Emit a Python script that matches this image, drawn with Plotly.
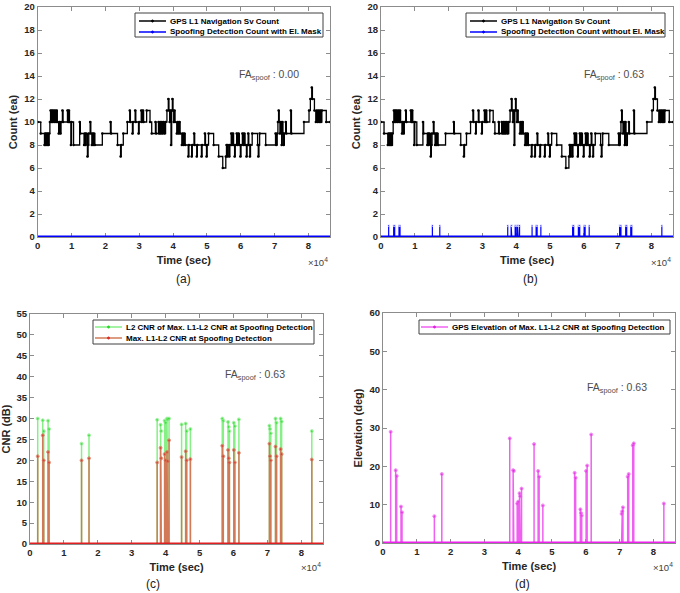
import plotly.graph_objects as go

# time in units of 1e4 sec
T_END = 8.64

# GPS L1 navigation Sv count (step changes)
sv_t = [0.00, 0.09, 0.20, 0.22, 0.24, 0.26, 0.28, 0.30, 0.32, 0.34, 0.36, 0.38, 0.40, 0.42, 0.44, 0.46,
        0.49, 0.51, 0.54, 0.56, 0.58, 0.62, 0.64, 0.67, 0.69, 0.73, 0.75, 0.88, 0.90, 0.92, 0.94, 0.98,
        1.00, 1.06, 1.24, 1.26, 1.37, 1.39, 1.41, 1.43, 1.47, 1.49, 1.51, 1.55, 1.57, 1.60, 1.62, 1.64,
        1.66, 1.69, 1.91, 2.15, 2.17, 2.36, 2.45, 2.47, 2.53, 2.65, 2.72, 2.74, 2.80, 2.82, 2.88, 2.90,
        2.98, 3.00, 3.06, 3.08, 3.11, 3.13, 3.22, 3.32, 3.37, 3.48, 3.50, 3.57, 3.59, 3.62, 3.64, 3.67,
        3.69, 3.72, 3.75, 3.78, 3.82, 3.86, 3.88, 3.90, 3.92, 3.94, 3.96, 3.98, 4.00, 4.02, 4.04, 4.06,
        4.11, 4.14, 4.16, 4.19, 4.21, 4.26, 4.28, 4.31, 4.33, 4.36, 4.45, 4.47, 4.55, 4.57, 4.62, 4.64,
        4.70, 4.72, 4.84, 4.86, 4.94, 4.96, 4.99, 5.01, 5.05, 5.20, 5.35, 5.47, 5.56, 5.58, 5.60, 5.62,
        5.66, 5.68, 5.72, 5.74, 5.77, 5.79, 5.82, 5.84, 5.88, 5.90, 5.93, 5.96, 5.99, 6.01, 6.05, 6.08,
        6.10, 6.13, 6.17, 6.19, 6.22, 6.24, 6.27, 6.29, 6.34, 6.50, 6.52, 6.54, 6.56, 6.74, 7.03, 7.05,
        7.08, 7.10, 7.12, 7.14, 7.16, 7.19, 7.21, 7.23, 7.25, 7.27, 7.29, 7.33, 7.35, 7.48, 7.50, 7.87,
        8.02, 8.06, 8.10, 8.12, 8.18, 8.22, 8.25, 8.27, 8.30, 8.32, 8.35, 8.37, 8.40, 8.53, 8.64]
sv_n = [10, 9, 8, 9, 8, 9, 8, 9, 8, 9, 10, 11, 10, 11, 10, 11,
        10, 11, 10, 11, 10, 9, 10, 9, 10, 11, 10, 11, 10, 11, 10, 8,
        10, 8, 10, 9, 8, 9, 8, 9, 7, 8, 9, 10, 9, 8, 9, 8,
        9, 8, 9, 10, 9, 8, 7, 8, 9, 10, 11, 10, 9, 10, 11, 10,
        9, 10, 11, 10, 11, 10, 11, 10, 9, 10, 9, 10, 9, 10, 9, 10,
        9, 10, 9, 10, 11, 12, 11, 10, 11, 8, 11, 12, 11, 10, 11, 10,
        9, 10, 9, 10, 9, 8, 9, 8, 9, 8, 7, 8, 7, 8, 9, 8,
        7, 8, 7, 8, 9, 8, 7, 8, 9, 8, 7, 6, 7, 8, 7, 8,
        7, 8, 9, 8, 9, 8, 7, 8, 9, 8, 9, 8, 7, 8, 9, 8,
        9, 8, 7, 8, 9, 8, 7, 8, 9, 8, 7, 8, 9, 8, 9, 8,
        9, 10, 11, 10, 9, 10, 8, 10, 9, 8, 9, 10, 9, 11, 9, 10,
        11, 12, 13, 12, 11, 10, 11, 10, 11, 10, 11, 10, 11, 10, 10]

# spoofing detection events (time, 1e4 sec)
det_t = [0.227, 0.375, 0.405, 0.533, 0.563, 1.52, 1.74, 3.75, 3.85, 3.87, 3.97, 4.00, 4.04, 4.06, 4.10,
         4.47, 4.59, 4.62, 4.73, 5.67, 5.70, 5.84, 5.86, 5.88, 6.01, 6.04, 6.16, 7.06, 7.08, 7.10,
         7.24, 7.27, 7.39, 7.42, 8.31]
det_count = [1, 1, 1, 1, 1, 1, 1, 1, 1, 1, 1, 1, 1, 1, 1, 1, 1, 1, 1, 1, 1, 1, 1, 1, 1, 1, 1, 1, 1, 1,
             1, 1, 1, 1, 1]
l2_cnr = [30.0, 29.6, 27.0, 29.5, 27.5, 24.0, 26.0, 29.7, 28.5, 27.0, 29.5, 29.0, 30.0, 29.8, 30.0,
          28.6, 28.8, 27.0, 27.5, 30.0, 29.5, 29.2, 28.0, 27.0, 29.0, 28.2, 29.8, 28.3, 27.5, 26.5,
          30.0, 29.0, 30.0, 29.3, 27.0]
max_cnr = [21.0, 26.0, 20.0, 22.0, 19.5, 20.0, 20.5, 19.5, 23.0, 20.5, 21.5, 20.0, 22.0, 19.8, 24.8,
           20.8, 22.2, 20.0, 20.3, 23.5, 21.0, 22.5, 20.5, 19.5, 22.5, 19.5, 21.8, 24.0, 21.0, 20.0,
           23.3, 21.0, 22.7, 21.5, 20.2]
elev = [29.0, 19.0, 17.5, 9.5, 8.0, 7.0, 18.0, 27.3, 19.0, 18.8, 10.3, 10.8, 13.0, 12.2, 14.2,
        25.8, 18.8, 17.3, 9.8, 18.3, 17.0, 8.8, 7.8, 7.2, 18.8, 20.2, 28.3, 7.6, 8.3, 9.3,
        17.3, 18.0, 25.5, 26.0, 10.3]

FONT = "Liberation Sans, Arial, sans-serif"
W, H = 680, 593

BLACK, BLUE = "#000000", "#0000ff"
GREEN_L, GREEN_M = "#86ef86", "#22d822"
RED_L, RED_M = "#d27a58", "#e42424"
MAG_L, MAG_M = "#f060f0", "#e020e0"


def stems(times, vals, ms):
    x, y, s = [0], [0], [0]
    for t, v in zip(times, vals):
        x += [t, t, t]
        y += [0, v, 0]
        s += [0, ms, 0]
    x.append(T_END); y.append(0); s.append(0)
    return x, y, s


fig = go.Figure()

# (a) and (b)
for ax, sp in [("", False), ("2", True)]:
    fig.add_trace(go.Scatter(x=sv_t, y=sv_n, mode="lines+markers", line=dict(color=BLACK, width=1.3, shape="hv"),
                             marker=dict(size=2.5, color=BLACK), xaxis="x" + ax, yaxis="y" + ax))
    if sp:
        x, y, s = stems(det_t, det_count, 2)
        fig.add_trace(go.Scatter(x=x, y=y, mode="lines+markers", line=dict(color=BLUE, width=1.2),
                                 marker=dict(size=s, color=BLUE), xaxis="x" + ax, yaxis="y" + ax, cliponaxis=False))
    fig.add_trace(go.Scatter(x=[0, T_END], y=[0, 0], mode="lines", line=dict(color=BLUE, width=3),
                             xaxis="x" + ax, yaxis="y" + ax, cliponaxis=False))

# (c)
x, y, s = stems(det_t, l2_cnr, 3)
fig.add_trace(go.Scatter(x=x, y=y, mode="lines+markers", line=dict(color=GREEN_L, width=1.5),
                         marker=dict(size=s, color=GREEN_M), xaxis="x3", yaxis="y3"))
x, y, s = stems(det_t, max_cnr, 3)
fig.add_trace(go.Scatter(x=x, y=y, mode="lines+markers", line=dict(color=RED_L, width=1.5),
                         marker=dict(size=s, color=RED_M), xaxis="x3", yaxis="y3", cliponaxis=False))
fig.add_trace(go.Scatter(x=[0, T_END], y=[0, 0], mode="lines", line=dict(color="#e02020", width=3),
                         xaxis="x3", yaxis="y3", cliponaxis=False))

# (d)
x, y, s = stems(det_t, elev, 3)
fig.add_trace(go.Scatter(x=x, y=y, mode="lines+markers", line=dict(color=MAG_L, width=1.5),
                         marker=dict(size=s, color=MAG_M), xaxis="x4", yaxis="y4", cliponaxis=False))
fig.add_trace(go.Scatter(x=[0, T_END], y=[0, 0], mode="lines", line=dict(color="#ee22ee", width=3),
                         xaxis="x4", yaxis="y4", cliponaxis=False))

panels = {
    "": dict(dx=(37.7, 330), dy=(7, 237), yr=(0, 20), dt=2, yt="Count (ea)"),
    "2": dict(dx=(381, 673), dy=(7, 237), yr=(0, 20), dt=2, yt="Count (ea)"),
    "3": dict(dx=(30, 323), dy=(314, 544), yr=(0, 55), dt=5, yt="CNR (dB)"),
    "4": dict(dx=(383, 675), dy=(313, 543), yr=(0, 60), dt=10, yt="Elevation (deg)"),
}
tickfont = dict(family=FONT, size=9.5, color="#262626", weight="bold")
titlefont = dict(family=FONT, size=11, color="#262626", weight="bold")
lay = {}
for k, p in panels.items():
    lay["xaxis" + k] = dict(domain=[p["dx"][0] / W, p["dx"][1] / W], anchor="y" + k, range=[0, T_END],
                            tickvals=[0, 1, 2, 3, 4, 5, 6, 7, 8], ticks="inside", ticklen=4, showline=True,
                            linecolor="#8c8c8c", tickcolor="#8c8c8c", mirror="ticks", showgrid=False,
                            zeroline=False, tickfont=tickfont, layer="below traces", automargin=False,
                            title=dict(text="Time (sec)", font=titlefont, standoff=5))
    lay["yaxis" + k] = dict(domain=[1 - p["dy"][1] / H, 1 - p["dy"][0] / H], anchor="x" + k, range=list(p["yr"]),
                            dtick=p["dt"], ticks="inside", ticklen=4, showline=True, linecolor="#8c8c8c",
                            tickcolor="#8c8c8c", mirror="ticks", showgrid=False, zeroline=False,
                            tickfont=tickfont, layer="below traces", automargin=False,
                            title=dict(text=p["yt"], font=titlefont, standoff=4))

shapes, ann = [], []

# legends drawn as boxes (pixel positions of the box, first row centre, line start)
legends = [
    ((135, 13, 323, 37), 21, 139, [("GPS L1 Navigation Sv Count", BLACK, BLACK),
                                    ("Spoofing Detection Count with El. Mask", BLUE, BLUE)]),
    ((466, 13, 665, 37), 21, 470, [("GPS L1 Navigation Sv Count", BLACK, BLACK),
                                    ("Spoofing Detection Count without El. Mask", BLUE, BLUE)]),
    ((93, 320, 314, 344), 327, 95, [("L2 CNR of Max. L1-L2 CNR at Spoofing Detection", GREEN_L, GREEN_M),
                                     ("Max. L1-L2 CNR at Spoofing Detection", RED_L, RED_M)]),
    ((419, 320, 670, 334), 327, 421, [("GPS Elevation of Max. L1-L2 CNR at Spoofing Detection", MAG_L, MAG_M)]),
]
px = lambda v: v / W
py = lambda v: 1 - v / H
for (x0, y0, x1, y1), yc, lx, items in legends:
    shapes.append(dict(type="rect", xref="paper", yref="paper", x0=px(x0), x1=px(x1), y0=py(y0), y1=py(y1),
                       line=dict(color="#404040", width=1), fillcolor="white", layer="above"))
    for i, (lab, lc, mc) in enumerate(items):
        yy = yc + 11 * i
        shapes.append(dict(type="line", xref="paper", yref="paper", x0=px(lx), x1=px(lx + 27), y0=py(yy), y1=py(yy),
                           line=dict(color=lc, width=1.5), layer="above"))
        shapes.append(dict(type="circle", xref="paper", yref="paper", x0=px(lx + 12.5), x1=px(lx + 14.5),
                           y0=py(yy + 1), y1=py(yy - 1), line=dict(color=mc, width=1), fillcolor=mc, layer="above"))
        ann.append(dict(x=px(lx + 29), y=py(yy), xref="paper", yref="paper", text=lab, showarrow=False,
                        xanchor="left", yanchor="middle",
                        font=dict(family=FONT, size=8, color="black", weight="bold")))

fa = [("", 5.9, 14.1, "0.00"), ("2", 5.95, 14.1, "0.63"), ("3", 5.7, 40.4, "0.63"), ("4", 5.97, 40.4, "0.63")]
for k, xv, yv, v in fa:
    ann.append(dict(x=xv, y=yv, xref="x" + k, yref="y" + k, text="FA<sub>spoof</sub> : " + v, showarrow=False,
                    xanchor="left", yanchor="middle", font=dict(family=FONT, size=10.5, color="#4d4d4d")))
for xp, yp in [(330, 262), (673, 262), (323, 567), (675, 567)]:
    ann.append(dict(x=px(xp), y=py(yp), xref="paper", yref="paper", text="×10<sup>4</sup>", showarrow=False,
                    xanchor="right", yanchor="middle", font=dict(family=FONT, size=9.5, color="#404040")))
for xp, yp, t in [(183, 279, "(a)"), (530, 279, "(b)"), (153, 584, "(c)"), (522, 584, "(d)")]:
    ann.append(dict(x=px(xp), y=py(yp), xref="paper", yref="paper", text=t, showarrow=False,
                    xanchor="center", yanchor="middle", font=dict(family=FONT, size=12, color="#202020")))

fig.update_layout(width=W, height=H, margin=dict(l=0, r=0, t=0, b=0, autoexpand=False), plot_bgcolor="white",
                  paper_bgcolor="white", showlegend=False, shapes=shapes, annotations=ann, **lay)
fig.write_html("out.html", config={"displayModeBar": False},
               post_script="document.body.style.margin='0px';")
